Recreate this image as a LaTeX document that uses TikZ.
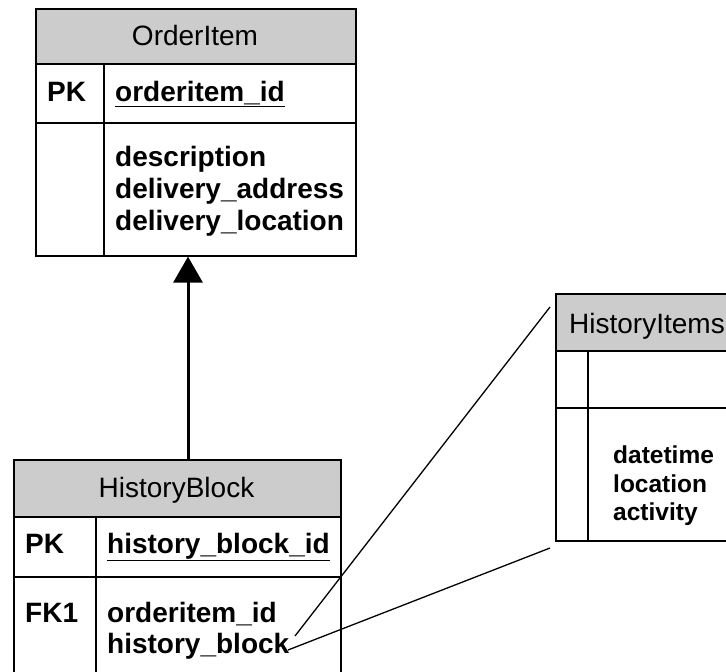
\documentclass[tikz,border=0pt]{standalone}
\usepackage{fontspec}
\setmainfont{Liberation Sans}
\usetikzlibrary{arrows.meta}
\definecolor{hdrgray}{RGB}{204,204,204}
\tikzset{
  every picture/.style={x=1pt,y=-1pt},
  box/.style={draw=black,line width=1.6pt,inner sep=0pt},
  hdrbox/.style={box,fill=hdrgray},
  rowbox/.style={box,fill=white},
  divider/.style={draw=black,line width=1.6pt},
  title/.style={font=\fontsize{28}{32}\selectfont,inner sep=0pt,anchor=base},
  field/.style={font=\fontsize{28}{32}\selectfont\bfseries,inner sep=0pt,anchor=base west},
  smallfield/.style={field,font=\fontsize{24.5}{28}\selectfont\bfseries},
  link/.style={draw=black,line width=1.3pt},
  rel/.style={draw=black,line width=3pt,-{Triangle[length=26pt,width=29pt]}}
}
\newcommand{\ulfield}[1]{\underline{#1}}
\begin{document}
\begin{tikzpicture}
\useasboundingbox (0,0) rectangle (726,672);
\clip (0,0) rectangle (726,672);

% OrderItem table
\node[hdrbox,minimum width=320pt,minimum height=55pt,anchor=north west] (oiHead) at (35,8) {};
\node[rowbox,minimum width=320pt,minimum height=59pt,anchor=north west] (oiKey) at (35,63) {};
\node[rowbox,minimum width=320pt,minimum height=133pt,anchor=north west] (oiBody) at (35,122) {};
\draw[divider] (104,63) -- (104,255);
\node[title] (oiTitle) at (195,45) {OrderItem};
\node[field] (oiPK) at (47,101) {PK};
\node[field] (oiId) at (115,101) {\ulfield{orderitem\_id}};
\node[field] (oiF1) at (115,166) {description};
\node[field] (oiF2) at (115,198) {delivery\_address};
\node[field] (oiF3) at (115,230) {delivery\_location};

% HistoryBlock table
\node[hdrbox,minimum width=327pt,minimum height=57pt,anchor=north west] (hbHead) at (13,459) {};
\node[rowbox,minimum width=327pt,minimum height=60pt,anchor=north west] (hbKey) at (13,516) {};
\node[rowbox,minimum width=327pt,minimum height=130pt,anchor=north west] (hbBody) at (13,576) {};
\draw[divider] (96,516) -- (96,706);
\node[title] (hbTitle) at (176.5,497) {HistoryBlock};
\node[field] (hbPK) at (25,553) {PK};
\node[field] (hbId) at (107,553) {\ulfield{history\_block\_id}};
\node[field] (hbFK) at (25,622) {FK1};
\node[field] (hbF1) at (107,622) {orderitem\_id};
\node[field] (hbF2) at (107,653) {history\_block};

% HistoryItems table
\node[hdrbox,minimum width=200pt,minimum height=57pt,anchor=north west] (hiHead) at (555,293) {};
\node[rowbox,minimum width=200pt,minimum height=57pt,anchor=north west] (hiKey) at (555,350) {};
\node[rowbox,minimum width=200pt,minimum height=133pt,anchor=north west] (hiBody) at (555,407) {};
\draw[divider] (588,350) -- (588,540);
\node[title,anchor=base west] (hiTitle) at (569,333) {HistoryItems};
\node[smallfield] (hiF1) at (613,463) {datetime};
\node[smallfield] (hiF2) at (613,492) {location};
\node[smallfield] (hiF3) at (613,520) {activity};

% HistoryBlock refers to OrderItem
\draw[rel] (hbHead.north -| 188,0) -- (oiBody.south -| 188,0);

% history_block expands into HistoryItems
\coordinate (hbEndA) at (295,636);
\coordinate (hbEndB) at (288,650);
\coordinate (hiTop) at (550,307);
\coordinate (hiBot) at (550,548);
\draw[link] (hbEndA) -- (hiTop);
\draw[link] (hbEndB) -- (hiBot);
\end{tikzpicture}
\end{document}
